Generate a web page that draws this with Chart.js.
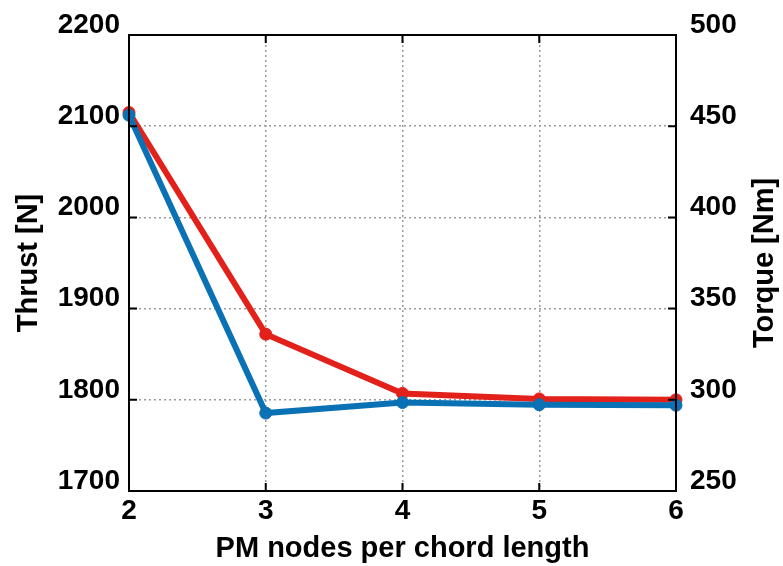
<!DOCTYPE html>
<html>
<head>
<meta charset="utf-8">
<script src="https://cdn.jsdelivr.net/npm/chart.js@4"></script>
<style>
  html, body { margin: 0; padding: 0; background: #fff; }
  canvas { display: block; }
</style>
</head>
<body>
<canvas id="chart" width="783" height="566"></canvas>
<script>
// PM nodes per chord length
const nodes = [2, 3, 4, 5, 6];
// Thrust [N] (left axis)
const thrust = [2115, 1872, 1807, 1801, 1800];
// Torque [Nm] (right axis)
const torque = [456, 292.7, 298.5, 297.3, 297.0];

// axis ranges and tick steps
const thrustRange = [1700, 2200, 100];
const torqueRange = [250, 500, 50];
const nodeRange = [2, 6, 1];

const RED = '#e3211b';
const BLUE = '#0b71b5';
const FONT = 'Liberation Sans';
const tickFont = { family: FONT, size: 28, weight: 'bold' };
const titleFont = { family: FONT, size: 29, weight: 'bold', lineHeight: 1.2 };
const plain = v => String(v);

// Box frame, inward tick marks and the right-hand axis title
const framePlugin = {
  id: 'frame',
  afterDatasetsDraw(chart) {
    const { ctx, chartArea: { left, right, top, bottom }, scales } = chart;
    const L = 8;
    ctx.save();
    ctx.strokeStyle = '#000';
    ctx.lineWidth = 2;
    ctx.strokeRect(left, top, right - left, bottom - top);
    ctx.beginPath();
    scales.x.ticks.forEach(t => {
      const px = scales.x.getPixelForValue(t.value);
      ctx.moveTo(px, bottom); ctx.lineTo(px, bottom - L);
      ctx.moveTo(px, top); ctx.lineTo(px, top + L);
    });
    scales.y.ticks.forEach(t => {
      const py = scales.y.getPixelForValue(t.value);
      ctx.moveTo(left, py); ctx.lineTo(left + L, py);
    });
    scales.y1.ticks.forEach(t => {
      const py = scales.y1.getPixelForValue(t.value);
      ctx.moveTo(right, py); ctx.lineTo(right - L, py);
    });
    ctx.stroke();

    ctx.translate(765, (top + bottom) / 2);
    ctx.rotate(-Math.PI / 2);
    ctx.fillStyle = '#000';
    ctx.font = `bold ${titleFont.size}px "${FONT}"`;
    ctx.textAlign = 'center';
    ctx.textBaseline = 'middle';
    ctx.fillText('Torque [Nm]', 0, 0);
    ctx.restore();
  }
};

const toPoints = (xs, ys) => xs.map((x, i) => ({ x, y: ys[i] }));

new Chart(document.getElementById('chart'), {
  type: 'line',
  data: {
    datasets: [
      {
        label: 'Torque [Nm]',
        data: toPoints(nodes, torque),
        yAxisID: 'y1',
        borderColor: BLUE,
        backgroundColor: BLUE,
        borderWidth: 6,
        pointRadius: 6,
        pointBorderWidth: 1,
        pointHoverRadius: 6,
        tension: 0,
        clip: false
      },
      {
        label: 'Thrust [N]',
        data: toPoints(nodes, thrust),
        yAxisID: 'y',
        borderColor: RED,
        backgroundColor: RED,
        borderWidth: 6,
        pointRadius: 6,
        pointBorderWidth: 1,
        pointHoverRadius: 6,
        tension: 0,
        clip: false
      }
    ]
  },
  options: {
    responsive: false,
    devicePixelRatio: 1,
    animation: false,
    layout: { padding: { top: 35, left: 0, right: 0, bottom: 0 } },
    plugins: { legend: { display: false }, tooltip: { enabled: false } },
    scales: {
      x: {
        type: 'linear',
        min: nodeRange[0], max: nodeRange[1],
        ticks: { stepSize: nodeRange[2], font: tickFont, color: '#000', padding: 3, callback: plain },
        grid: { color: '#9a9a9a', lineWidth: 1.5, drawTicks: false },
        border: { display: false, dash: [2, 3] },
        title: {
          display: true, text: 'PM nodes per chord length',
          font: titleFont, color: '#000', padding: { top: 0, bottom: 0 }
        },
        afterFit(s) { s.height = 75; }
      },
      y: {
        type: 'linear', position: 'left',
        min: thrustRange[0], max: thrustRange[1],
        ticks: { stepSize: thrustRange[2], font: tickFont, color: '#000', padding: 9, labelOffset: -10, callback: plain },
        grid: { color: '#9a9a9a', lineWidth: 1.5, drawTicks: false },
        border: { display: false, dash: [2, 3] },
        title: {
          display: true, text: 'Thrust [N]',
          font: titleFont, color: '#000', padding: { top: 12, bottom: 0 }
        },
        afterFit(s) { s.width = 129; }
      },
      y1: {
        type: 'linear', position: 'right',
        min: torqueRange[0], max: torqueRange[1],
        ticks: { stepSize: torqueRange[2], font: tickFont, color: '#000', padding: 14, labelOffset: -10, callback: plain },
        grid: { display: false, drawTicks: false },
        border: { display: false },
        afterFit(s) { s.width = 107; }
      }
    }
  },
  plugins: [framePlugin]
});
</script>
</body>
</html>
